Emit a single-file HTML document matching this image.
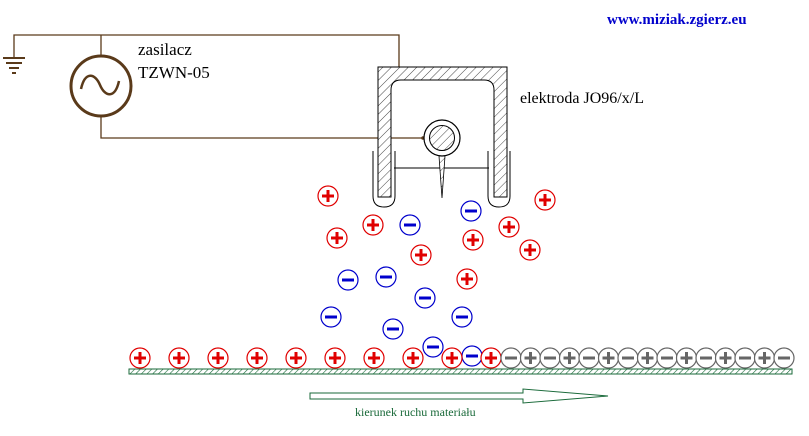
<!DOCTYPE html>
<html><head><meta charset="utf-8"><style>
html,body{margin:0;padding:0;background:#fff;width:809px;height:436px;overflow:hidden}
svg{display:block}
</style></head><body>
<svg id="s" width="809" height="436" viewBox="0 0 809 436" xmlns="http://www.w3.org/2000/svg">
<defs>
<pattern id="h" width="6" height="6" patternUnits="userSpaceOnUse" patternTransform="rotate(45)">
<rect width="6" height="6" fill="#fff"/><line x1="0" y1="0" x2="0" y2="6" stroke="#333" stroke-width="0.9"/></pattern>
<pattern id="g" width="4" height="4" patternUnits="userSpaceOnUse" patternTransform="rotate(45)">
<rect width="4" height="4" fill="#fff"/><line x1="0" y1="0" x2="0" y2="4" stroke="#1a6a3a" stroke-width="1.2"/></pattern>
</defs>
<text x="607" y="24" font-family="Liberation Serif,serif" font-weight="bold" font-size="15" fill="#0000cc">www.miziak.zgierz.eu</text>
<g stroke="#5a3a1a" stroke-width="1.3" fill="none">
<polyline points="14,58 14,35 399,35 399,67"/>
<polyline points="101,115 101,138 423,138"/>
<line x1="101" y1="35" x2="101" y2="56"/>
</g>
<g stroke="#5a3a1a" stroke-width="2">
<line x1="3" y1="58" x2="25" y2="58"/><line x1="6" y1="63" x2="22" y2="63"/><line x1="9" y1="68" x2="19" y2="68"/><line x1="12" y1="73" x2="16" y2="73"/>
</g>
<circle cx="101" cy="86" r="30" fill="#fff" stroke="#5a3a1a" stroke-width="3"/>
<path d="M81,89 C85,71 95,73 100,85 C105,97 115,99 119,81" fill="none" stroke="#5a3a1a" stroke-width="2.5"/>
<circle cx="423" cy="138" r="1.8" fill="#5a3a1a"/>
<text x="138" y="55" font-family="Liberation Serif,serif" font-size="17">zasilacz</text>
<text x="138" y="78" font-family="Liberation Serif,serif" font-size="17">TZWN-05</text>
<text x="520" y="103" font-family="Liberation Serif,serif" font-size="16">elektroda JO96/x/L</text>
<path d="M378,67 H507 V197 H494 V90 Q494,80 484,80 H401 Q391,80 391,90 V197 H378 Z" fill="url(#h)" stroke="#000" stroke-width="1"/>
<path d="M373,151 V196 Q373,207 384,207 Q395,207 395,196 V151" fill="none" stroke="#000" stroke-width="1"/>
<path d="M488,151 V196 Q488,207 499,207 Q510,207 510,196 V151" fill="none" stroke="#000" stroke-width="1"/>
<line x1="394" y1="168" x2="489" y2="168" stroke="#000"/>
<path d="M439,156 L445,156 L442,198 Z" fill="url(#h)" stroke="#000" stroke-width="0.8"/>
<circle cx="442" cy="138" r="18" fill="#fff" stroke="#000" stroke-width="1.2"/>
<circle cx="442" cy="138" r="12.5" fill="url(#h)" stroke="#000" stroke-width="1"/>
<rect x="129" y="369" width="663" height="5" fill="url(#g)" stroke="#1a6a3a" stroke-width="1"/>
<path d="M310,393 H523 V389 L608,396 L523,403 V399 H310 Z" fill="#fff" stroke="#1a6a3a" stroke-width="1"/>
<text x="355" y="416" font-family="Liberation Serif,serif" font-size="12" fill="#1a6a3a">kierunek ruchu materiału</text>
<g id="c"></g>
</svg>
<script>
var g=document.getElementById('c'),h='';
function ch(x,y,t,col){
 h+='<circle cx="'+x+'" cy="'+y+'" r="10" fill="#fff" stroke="'+col+'" stroke-width="1.2"/>';
 h+='<rect x="'+(x-6)+'" y="'+(y-1.5)+'" width="12" height="3" fill="'+col+'"/>';
 if(t=='+')h+='<rect x="'+(x-1.5)+'" y="'+(y-6)+'" width="3" height="12" fill="'+col+'"/>';
}
var R='#e00000',B='#0000cc',G='#666';
[[328,196],[373,225],[337,238],[421,255],[473,240],[509,227],[530,250],[467,279],[545,200]].forEach(function(p){ch(p[0],p[1],'+',R)});
[[410,225],[471,211],[348,280],[386,277],[425,298],[331,317],[462,317],[393,329],[433,347],[472,356]].forEach(function(p){ch(p[0],p[1],'-',B)});
[140,179,218,257,296,335,374,413,452,491].forEach(function(x){ch(x,358,'+',R)});
for(var i=0;i<15;i++){ch(511+i*19.5,358,i%2?'+':'-',G)}
g.innerHTML=h;
</script>
</body></html>
